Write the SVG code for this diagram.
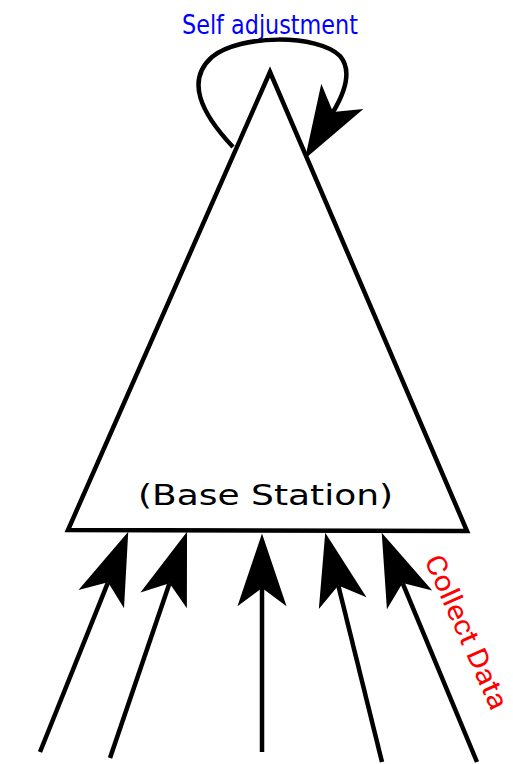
<svg xmlns="http://www.w3.org/2000/svg" width="513" height="764" viewBox="0 0 513 764">
<defs>
<style>
.ln{fill:none;stroke:#000;stroke-width:4.5}
.lbl{font-family:"DejaVu Sans",sans-serif}
</style>
<marker id="ah" markerUnits="userSpaceOnUse" markerWidth="80" markerHeight="60" viewBox="-20 -25 75 50" refX="0" refY="0" orient="auto">
<path d="M51,0 L-17,-23 L0,0 L-17,23 Z" fill="#000"/>
</marker>
</defs>
<rect width="513" height="764" fill="#fff"/>
<g id="base-station">
<polygon points="270,72 68,530 467,531" fill="#fff" stroke="#000" stroke-width="4.5" stroke-linejoin="miter"/>
<text class="lbl" x="138" y="505" font-size="28" textLength="255" lengthAdjust="spacingAndGlyphs" fill="#000">(Base Station)</text>
</g>
<g id="self-adjustment">
<text class="lbl" x="182" y="34" font-size="26" textLength="176" lengthAdjust="spacingAndGlyphs" fill="#0000ff">Self adjustment</text>
</g>
<g id="collect-data">
<text x="0" y="0" font-family="Roboto,sans-serif" font-size="28" textLength="166" lengthAdjust="spacingAndGlyphs" fill="#ff0000" transform="translate(424,560) rotate(66)">Collect Data</text>
</g>
<g id="connectors">
<path class="ln" d="M233,147 C200,112 186,80 212,57 C240,34 318,34 340,56 C352,70 345,92 333,112" marker-end="url(#ah)"/>
<line class="ln" x1="40" y1="752" x2="108" y2="582.3" marker-end="url(#ah)"/>
<line class="ln" x1="110" y1="758" x2="169.5" y2="583.3" marker-end="url(#ah)"/>
<line class="ln" x1="262" y1="752" x2="262" y2="588" marker-end="url(#ah)"/>
<line class="ln" x1="382" y1="762" x2="338.3" y2="585.5" marker-end="url(#ah)"/>
<line class="ln" x1="477" y1="762" x2="402.6" y2="583.1" marker-end="url(#ah)"/>
</g>
</svg>
